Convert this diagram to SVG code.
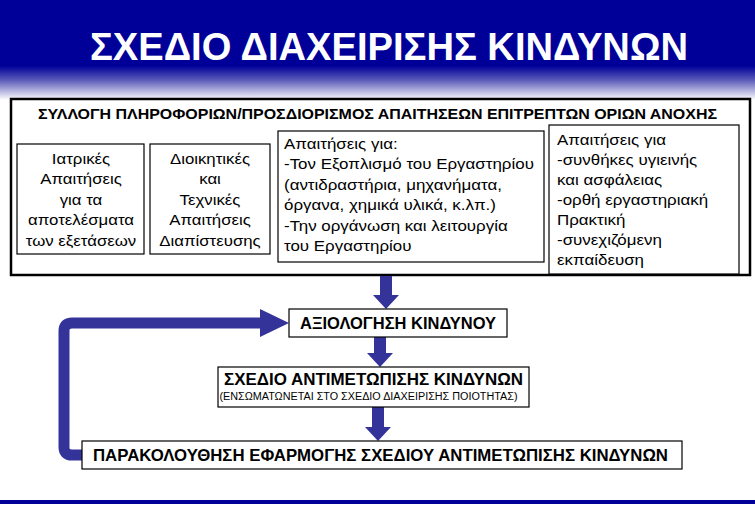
<svg xmlns="http://www.w3.org/2000/svg" width="755" height="507" viewBox="0 0 755 507">
<defs>
<linearGradient id="hdr" x1="0" y1="0" x2="0" y2="100" gradientUnits="userSpaceOnUse">
<stop offset="0" stop-color="#000099"/>
<stop offset="0.66" stop-color="#000099"/>
<stop offset="0.8" stop-color="#5a5ab8"/>
<stop offset="1" stop-color="#ffffff"/>
</linearGradient>
<style>
.box{fill:#fff;stroke:#000;stroke-width:1.2}
.t{font-family:"Liberation Sans",Arial,sans-serif;font-size:14px;fill:#000}
.c{text-anchor:middle}
.b{font-family:"Liberation Sans",Arial,sans-serif;font-weight:bold;fill:#000}
.arr{fill:#333399}
</style>
</defs>
<rect x="0" y="0" width="755" height="100" fill="url(#hdr)"/>
<text x="389" y="60" font-family="Liberation Sans,Arial,sans-serif" font-weight="bold" font-size="39" fill="#fff" text-anchor="middle" textLength="598" lengthAdjust="spacingAndGlyphs">ΣΧΕΔΙΟ ΔΙΑΧΕΙΡΙΣΗΣ ΚΙΝΔΥΝΩΝ</text>

<g id="outer">
<rect x="11" y="99" width="739" height="176" fill="#fff" stroke="#000" stroke-width="2.5"/>
<text class="b" x="38" y="119" font-size="15.5" textLength="679" lengthAdjust="spacingAndGlyphs">ΣΥΛΛΟΓΗ ΠΛΗΡΟΦΟΡΙΩΝ/ΠΡΟΣΔΙΟΡΙΣΜΟΣ ΑΠΑΙΤΗΣΕΩΝ ΕΠΙΤΡΕΠΤΩΝ ΟΡΙΩΝ ΑΝΟΧΗΣ</text>
</g>

<g id="box1">
<rect class="box" x="17" y="144" width="127" height="110"/>
<g transform="translate(81 0) scale(1.2 1)">
<text class="t c" x="0" y="164">Ιατρικές</text>
<text class="t c" x="0" y="184.5">Απαιτήσεις</text>
<text class="t c" x="0" y="205">για τα</text>
<text class="t c" x="0" y="225.5">αποτελέσματα</text>
<text class="t c" x="0" y="246">των εξετάσεων</text>
</g>
</g>

<g id="box2">
<rect class="box" x="150" y="144" width="120" height="110"/>
<g transform="translate(210 0) scale(1.2 1)">
<text class="t c" x="0" y="164">Διοικητικές</text>
<text class="t c" x="0" y="184.5">και</text>
<text class="t c" x="0" y="205">Τεχνικές</text>
<text class="t c" x="0" y="225.5">Απαιτήσεις</text>
<text class="t c" x="0" y="246">Διαπίστευσης</text>
</g>
</g>

<g id="box3">
<rect class="box" x="278" y="131" width="266" height="131"/>
<g transform="translate(284 0) scale(1.21 1)">
<text class="t" x="0" y="149">Απαιτήσεις για:</text>
<text class="t" x="0" y="169.5">-Τον Εξοπλισμό του Εργαστηρίου</text>
<text class="t" x="0" y="190">(αντιδραστήρια, μηχανήματα,</text>
<text class="t" x="0" y="210.5">όργανα, χημικά υλικά, κ.λπ.)</text>
<text class="t" x="0" y="231">-Την οργάνωση και λειτουργία</text>
<text class="t" x="0" y="251.5">του Εργαστηρίου</text>
</g>
</g>

<g id="box4">
<rect class="box" x="549" y="125" width="190" height="149"/>
<g transform="translate(557 0) scale(1.21 1)">
<text class="t" x="0" y="145">Απαιτήσεις για</text>
<text class="t" x="0" y="165">-συνθήκες υγιεινής</text>
<text class="t" x="0" y="185">και ασφάλειας</text>
<text class="t" x="0" y="205">-ορθή εργαστηριακή</text>
<text class="t" x="0" y="225">Πρακτική</text>
<text class="t" x="0" y="245">-συνεχιζόμενη</text>
<text class="t" x="0" y="265">εκπαίδευση</text>
</g>
</g>

<g id="connectors">
<path class="arr" d="M380,276 H392 V295 H399 L386,309 L373,295 H380 Z"/>
<path class="arr" d="M374,337 H386 V353 H393 L380,367 L367,353 H374 Z"/>
<path class="arr" d="M372,407 H384 V427 H391 L378,441 L365,427 H372 Z"/>
<path d="M84,455 H72 Q64,455 64,447 V331 Q64,323 72,323 H262" fill="none" stroke="#333399" stroke-width="11"/>
<path class="arr" d="M260,309 L289,323 L260,337 Z"/>
</g>

<g id="assess">
<rect class="box" x="289" y="309" width="218" height="28"/>
<text class="b" x="398" y="329" font-size="16" text-anchor="middle" textLength="196" lengthAdjust="spacingAndGlyphs">ΑΞΙΟΛΟΓΗΣΗ ΚΙΝΔΥΝΟΥ</text>
</g>

<g id="plan">
<rect class="box" x="218" y="367" width="311" height="40"/>
<text class="b" x="373.5" y="385" font-size="16.5" text-anchor="middle" textLength="299" lengthAdjust="spacingAndGlyphs">ΣΧΕΔΙΟ ΑΝΤΙΜΕΤΩΠΙΣΗΣ ΚΙΝΔΥΝΩΝ</text>
<text x="368.5" y="400" font-family="Liberation Sans,Arial,sans-serif" font-size="10" fill="#000" text-anchor="middle" textLength="298" lengthAdjust="spacingAndGlyphs">(ΕΝΣΩΜΑΤΩΝΕΤΑΙ ΣΤΟ ΣΧΕΔΙΟ ΔΙΑΧΕΙΡΙΣΗΣ ΠΟΙΟΤΗΤΑΣ)</text>
</g>

<g id="monitor">
<rect class="box" x="82" y="441" width="600" height="28"/>
<text class="b" x="380.5" y="461" font-size="16.5" text-anchor="middle" textLength="575" lengthAdjust="spacingAndGlyphs">ΠΑΡΑΚΟΛΟΥΘΗΣΗ ΕΦΑΡΜΟΓΗΣ ΣΧΕΔΙΟΥ ΑΝΤΙΜΕΤΩΠΙΣΗΣ ΚΙΝΔΥΝΩΝ</text>
</g>

<rect x="0" y="500" width="755" height="4" fill="#000099"/>
</svg>
